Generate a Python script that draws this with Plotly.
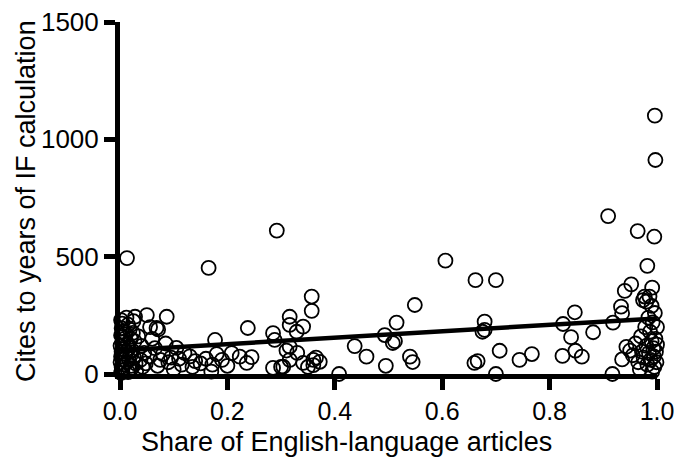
import plotly.graph_objects as go

# share of English-language articles vs. cites
share_english = [
    0.002, 0.004, 0.003, 0.006, 0.002, 0.008, 0.004, 0.001, 0.006, 0.003,
    0.009, 0.002, 0.005, 0.001, 0.007, 0.003, 0.004, 0.002, 0.012, 0.015,
    0.013, 0.018, 0.011, 0.020, 0.014, 0.017, 0.012, 0.020, 0.016, 0.013,
    0.021, 0.018, 0.015, 0.025, 0.028, 0.024, 0.027, 0.023, 0.026, 0.029,
    0.022, 0.030,
    0.034, 0.040, 0.045, 0.038, 0.042, 0.050, 0.056, 0.060, 0.055, 0.048,
    0.065, 0.068, 0.071, 0.075, 0.070, 0.080, 0.087, 0.085, 0.090, 0.095,
    0.100, 0.105, 0.110, 0.115, 0.120, 0.130, 0.135, 0.140, 0.150, 0.160,
    0.165, 0.170, 0.172, 0.177, 0.180, 0.190, 0.200,
    0.208, 0.223, 0.236, 0.238, 0.245, 0.285, 0.288, 0.285, 0.292, 0.300,
    0.304, 0.310, 0.316, 0.316, 0.316, 0.316, 0.329, 0.330, 0.341, 0.341,
    0.350, 0.357, 0.357, 0.360, 0.360, 0.372, 0.365,
    0.408, 0.437, 0.459, 0.495, 0.493, 0.515, 0.508, 0.512, 0.540, 0.545,
    0.549, 0.606,
    0.662, 0.660, 0.666, 0.700, 0.679, 0.679, 0.675, 0.707, 0.700, 0.744,
    0.767, 0.824, 0.825, 0.847, 0.840, 0.848, 0.860, 0.881,
    0.909, 0.918, 0.917, 0.933, 0.935, 0.935, 0.940, 0.943, 0.952, 0.964,
    0.974, 0.980, 0.982, 0.991, 0.995, 0.996, 0.997,
    0.950, 0.955, 0.960, 0.965, 0.968, 0.970, 0.972, 0.975, 0.978, 0.980,
    0.982, 0.984, 0.985, 0.987, 0.988, 0.990, 0.991, 0.992, 0.993, 0.994,
    0.995, 0.996, 0.997, 0.998, 0.999, 1.000, 1.000, 0.990, 0.986, 0.977,
]
cites = [
    230, 215, 195, 180, 165, 150, 135, 120, 105, 95,
    85, 75, 60, 50, 40, 30, 15, 5, 240, 210,
    494, 190, 170, 150, 130, 110, 95, 80, 65, 50,
    35, 20, 8, 225, 244, 175, 140, 100, 70, 45,
    25, 12,
    160, 120, 90, 60, 30, 251, 200, 150, 75, 45,
    110, 196, 190, 60, 35, 85, 244, 130, 50, 70,
    20, 111, 65, 40, 90, 75, 30, 55, 45, 65,
    452, 10, 40, 145, 85, 60, 35,
    89, 74, 47, 196, 72, 174, 145, 26, 611, 30,
    31, 100, 244, 209, 116, 60, 180, 90, 202, 47,
    30, 330, 269, 60, 38, 52, 70,
    0, 119, 74, 35, 166, 219, 132, 140, 74, 51,
    294, 483,
    400, 47, 55, 400, 223, 188, 180, 99, 0, 60,
    85, 77, 213, 263, 157, 99, 74, 178,
    673, 219, 0, 287, 259, 62, 354, 116, 382, 609,
    315, 308, 461, 368, 585, 1101, 912,
    100, 80, 130, 50, 20, 160, 95, 70, 200, 120,
    40, 240, 90, 180, 60, 140, 10, 220, 110, 75,
    30, 260, 150, 95, 50, 200, 125, 290, 330, 330,
]

# regression line end points
fit_x = [0.0, 1.0]
fit_y = [100, 237]

x_ticks = [0.0, 0.2, 0.4, 0.6, 0.8, 1.0]
x_tick_labels = ["0.0", "0.2", "0.4", "0.6", "0.8", "1.0"]
y_ticks = [0, 500, 1000, 1500]

x_title = 'Share of English-language articles'
y_title = 'Cites to years of IF calculation'

fig = go.Figure()
fig.add_trace(go.Scatter(
    x=share_english, y=cites,
    mode='markers',
    marker=dict(symbol='circle-open', size=14, color='black',
                line=dict(color='black', width=1.8)),
    cliponaxis=False,
    showlegend=False,
))
fig.add_trace(go.Scatter(
    x=fit_x, y=fit_y,
    mode='lines',
    line=dict(color='black', width=4.5),
    cliponaxis=False,
    showlegend=False,
))

# page body has an 8px margin, so the figure is a bit smaller than the window
font_family = "Liberation Sans, Arial, sans-serif"
fig.update_layout(
    width=666, height=458,
    margin=dict(l=112, r=17, t=14, b=92),
    plot_bgcolor='white',
    paper_bgcolor='white',
    font=dict(family=font_family, size=25, color='black'),
)
fig.update_xaxes(
    range=[0, 1.0],
    tickvals=x_ticks, ticktext=x_tick_labels,
    showline=True, linecolor='black', linewidth=5,
    ticks='outside', ticklen=11, tickwidth=5, tickcolor='black',
    showgrid=False, zeroline=False, automargin=False,
    ticklabeloverflow='allow',
    tickfont=dict(size=25),
)
fig.update_yaxes(
    range=[0, 1500],
    tickvals=y_ticks,
    showline=True, linecolor='black', linewidth=5,
    ticks='outside', ticklen=11, tickwidth=5, tickcolor='black',
    showgrid=False, zeroline=False, automargin=False,
    ticklabeloverflow='allow',
    tickfont=dict(size=26),
)

# axis titles as annotations so they can sit where the original has them
fig.add_annotation(
    text=x_title, xref='paper', yref='paper', x=0.5, y=0,
    xanchor='center', yanchor='middle', xshift=-42, yshift=-68,
    showarrow=False, font=dict(size=27),
)
fig.add_annotation(
    text=y_title, xref='paper', yref='paper', x=0, y=0.5,
    xanchor='center', yanchor='middle', xshift=-94, yshift=-3,
    textangle=-90, showarrow=False, font=dict(size=27),
)

fig.write_html("out.html")
